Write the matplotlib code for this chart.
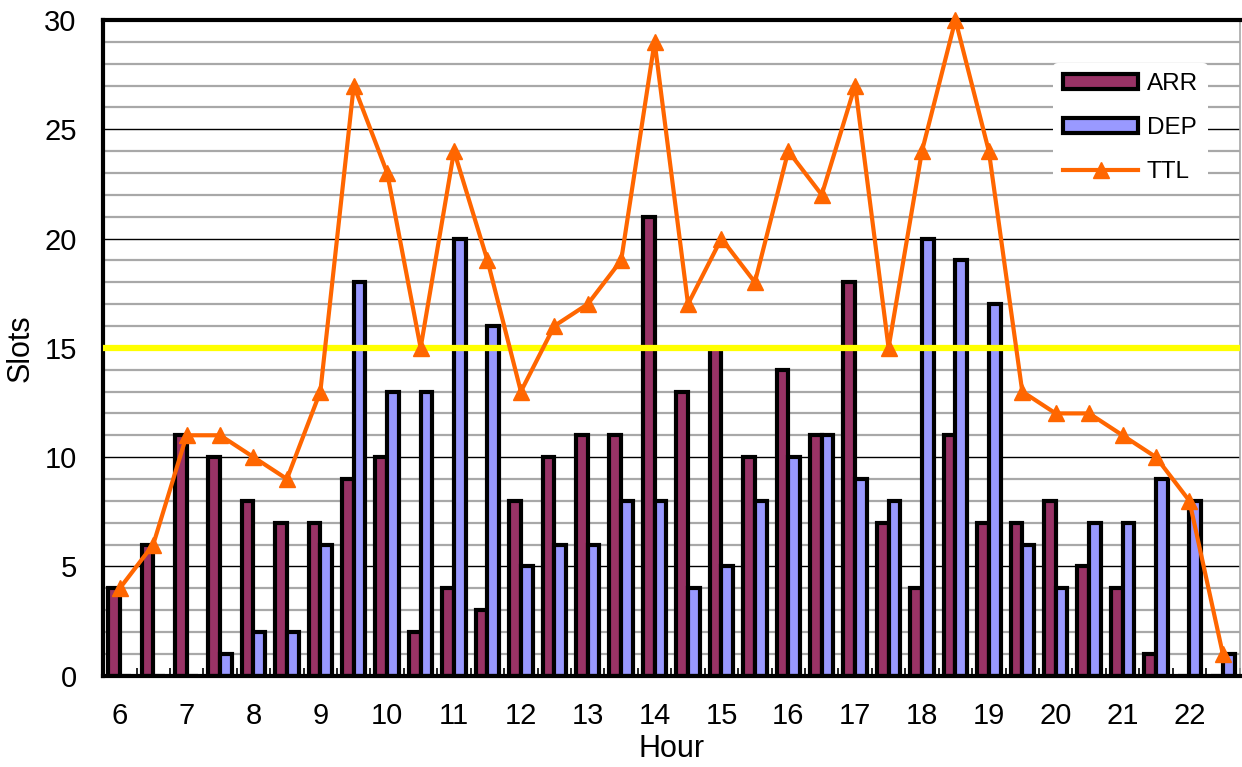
import numpy as np
import matplotlib.pyplot as plt
from matplotlib.patches import Patch
from matplotlib.lines import Line2D

plt.rcParams['font.family'] = ['Liberation Sans', 'DejaVu Sans']

# half-hour slots from 6:00 to 22:30
hours = [6, 6.5, 7, 7.5, 8, 8.5, 9, 9.5, 10, 10.5, 11, 11.5, 12, 12.5, 13, 13.5, 14,
         14.5, 15, 15.5, 16, 16.5, 17, 17.5, 18, 18.5, 19, 19.5, 20, 20.5, 21, 21.5, 22, 22.5]
arr = [4, 6, 11, 10, 8, 7, 7, 9, 10, 2, 4, 3, 8, 10, 11, 11, 21,
       13, 15, 10, 14, 11, 18, 7, 4, 11, 7, 7, 8, 5, 4, 1, 0, 0]
dep = [0, 0, 0, 1, 2, 2, 6, 18, 13, 13, 20, 16, 5, 6, 6, 8, 8,
       4, 5, 8, 10, 11, 9, 8, 20, 19, 17, 6, 4, 7, 7, 9, 8, 1]
ttl = [4, 6, 11, 11, 10, 9, 13, 27, 23, 15, 24, 19, 13, 16, 17, 19, 29,
       17, 20, 18, 24, 22, 27, 15, 24, 30, 24, 13, 12, 12, 11, 10, 8, 1]
limit = 15

x = np.arange(len(hours))
w = 0.35

fig = plt.figure(figsize=(12.42, 7.67), dpi=100)
ax = fig.add_axes([0.083, 0.119, 0.915, 0.855])

# grid: every slot count, darker every 5
for v in range(1, 30):
    ax.axhline(v, color='black' if v % 5 == 0 else '#a8a8a8', lw=1.0 if v % 5 == 0 else 1.6, zorder=0)

ax.bar(x - w / 2, arr, width=w, color='#993366', edgecolor='black', linewidth=3, zorder=2)
ax.bar(x + w / 2, dep, width=w, color='#9999FF', edgecolor='black', linewidth=3, zorder=2)
ax.axhline(limit, color='#FFFF00', lw=4.5, zorder=3)
ax.plot(x, ttl, color='#FF6600', lw=3, marker='^', markersize=11, zorder=4, clip_on=False)

ax.set_xlim(-0.5, len(hours) - 0.5)
ax.set_ylim(0, 30)
ax.set_yticks(range(0, 31, 5))
ax.set_xticks(x[::2])
ax.set_xticklabels([str(int(h)) for h in hours[::2]])
ax.set_xticks(np.arange(-0.5, len(hours), 1), minor=True)
ax.tick_params(axis='x', which='major', length=0, labelsize=21, pad=19)
ax.tick_params(axis='x', which='minor', direction='in', length=6, width=1.2)
ax.tick_params(axis='y', which='major', length=0, labelsize=21, pad=19)

for s in ['left', 'top', 'bottom']:
    ax.spines[s].set_linewidth(3)
ax.spines['right'].set_color('#a8a8a8')
ax.spines['right'].set_linewidth(1.2)

ax.set_xlabel('Hour', fontsize=22, labelpad=3)
ax.set_ylabel('Slots', fontsize=22, labelpad=6)

handles = [Patch(facecolor='#993366', edgecolor='black', linewidth=3),
           Patch(facecolor='#9999FF', edgecolor='black', linewidth=3),
           Line2D([0], [0], color='#FF6600', lw=3, marker='^', markersize=11)]
leg = ax.legend(handles, ['ARR', 'DEP', 'TTL'], loc='upper left', bbox_to_anchor=(0.836, 0.934),
                frameon=True, fontsize=17.5, handlelength=3.1, handleheight=0.55,
                labelspacing=0.9, borderpad=0.4, handletextpad=0.35, borderaxespad=0)
leg.get_frame().set_edgecolor('none')
leg.get_frame().set_facecolor('white')
leg.get_frame().set_alpha(1)
leg.set_zorder(5)

fig.savefig('out.png', dpi=100)
